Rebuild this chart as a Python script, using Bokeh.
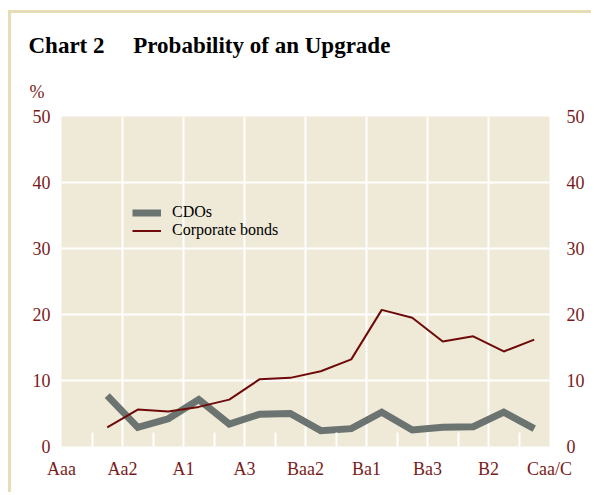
import numpy as np
from bokeh.plotting import figure
from bokeh.models import (LinearAxis, FixedTicker, Range1d, Title, Legend, LegendItem)
from bokeh.embed import file_html
from bokeh.resources import INLINE

# ---- data ----
ratings = ["Aaa", "Aa1", "Aa2", "Aa3", "A1", "A2", "A3", "Baa1", "Baa2", "Baa3",
           "Ba1", "Ba2", "Ba3", "B1", "B2", "B3", "Caa/C"]
cdos = [7.7, 2.9, 4.2, 7.1, 3.4, 4.9, 5.0, 2.4, 2.7, 5.2, 2.5, 2.9, 3.0, 5.2, 2.7]
corporate = [2.9, 5.6, 5.3, 6.0, 7.1, 10.2, 10.4, 11.4, 13.2, 20.7, 19.5, 15.9, 16.7, 14.4, 16.2]
y_ticks = [0, 10, 20, 30, 40, 50]
title_left = "Chart 2"
title_right = "Probability of an Upgrade"
unit_label = "%"

SERIF = "Liberation Serif"
RED = "#7a1b1b"
GREY = "#6b7470"
DARKRED = "#6e0a0a"
BG = "#efe9d7"

W, H = 583, 482
p = figure(width=W, height=H, output_backend="svg", toolbar_location=None, title=None,
           x_range=Range1d(0, len(ratings) - 1), y_range=Range1d(0, 50),
           min_border_left=50, min_border_right=45, min_border_top=103, min_border_bottom=49)
p.background_fill_color = BG
p.border_fill_color = "white"
p.outline_line_color = None
p.styles = {"margin-left": "8px", "margin-top": "10px",
            "border-left": "3px solid #e6ddb5", "border-top": "3px solid #e6ddb5"}

# x positions: points sit between rating ticks
xs = np.arange(1, 1 + len(cdos)) + 0.5

r1 = p.line(xs, cdos, line_color=GREY, line_width=7, line_join="miter")
r2 = p.line(xs, corporate, line_color=DARKRED, line_width=2)

# axes
major = list(range(0, len(ratings), 2))
minor = list(range(1, len(ratings), 2))
xax = p.xaxis[0]
xax.ticker = FixedTicker(ticks=major, minor_ticks=minor)
xax.major_label_overrides = {i: ratings[i] for i in major}
xax.axis_line_color = None
xax.major_tick_line_color = None
xax.major_tick_out = 0
xax.major_tick_in = 0
xax.minor_tick_line_color = "white"
xax.minor_tick_line_width = 2
xax.minor_tick_in = 14
xax.minor_tick_out = 0
xax.major_label_standoff = 12

yax = p.yaxis[0]
yax.ticker = FixedTicker(ticks=y_ticks, minor_ticks=[])
yax.axis_line_color = None
yax.major_tick_line_color = None
yax.major_tick_out = 0
yax.major_tick_in = 0
yax.major_label_standoff = 11

ry = LinearAxis(ticker=FixedTicker(ticks=y_ticks, minor_ticks=[]))
ry.axis_line_color = None
ry.major_tick_line_color = None
ry.major_tick_out = 0
ry.major_tick_in = 0
ry.minor_tick_line_color = None
ry.major_label_standoff = 17
p.add_layout(ry, "right")

for ax in (xax, yax, ry):
    ax.major_label_text_font = SERIF
    ax.major_label_text_font_size = "18px"
    ax.major_label_text_color = RED

p.xgrid.grid_line_color = "white"
p.xgrid.grid_line_width = 2
p.ygrid.grid_line_color = "white"
p.ygrid.grid_line_width = 2
p.xgrid.level = "underlay"
p.ygrid.level = "underlay"

# legend
legend = Legend(items=[LegendItem(label="CDOs", renderers=[r1]),
                       LegendItem(label="Corporate bonds", renderers=[r2])],
                location=(71, 207), background_fill_alpha=0, border_line_color=None,
                padding=0, margin=0, spacing=0, glyph_width=29, glyph_height=17,
                label_height=17, label_standoff=11,
                label_text_font=SERIF, label_text_font_size="16px", label_text_color="black")
p.add_layout(legend, "center")

# titles (above panel, stacked outward)
pct = Title(text=unit_label, align="left", offset=-32, standoff=30,
            text_font=SERIF, text_font_size="18px", text_font_style="normal",
            text_color=RED)
p.add_layout(pct, "above")
nb = "\u00a0" * 5
main = Title(text=title_left + nb + title_right, align="left", offset=-33, standoff=13,
             text_font=SERIF, text_font_size="23px", text_font_style="bold",
             text_color="black")
p.add_layout(main, "above")

open("out.html", "w").write(file_html(p, INLINE))
